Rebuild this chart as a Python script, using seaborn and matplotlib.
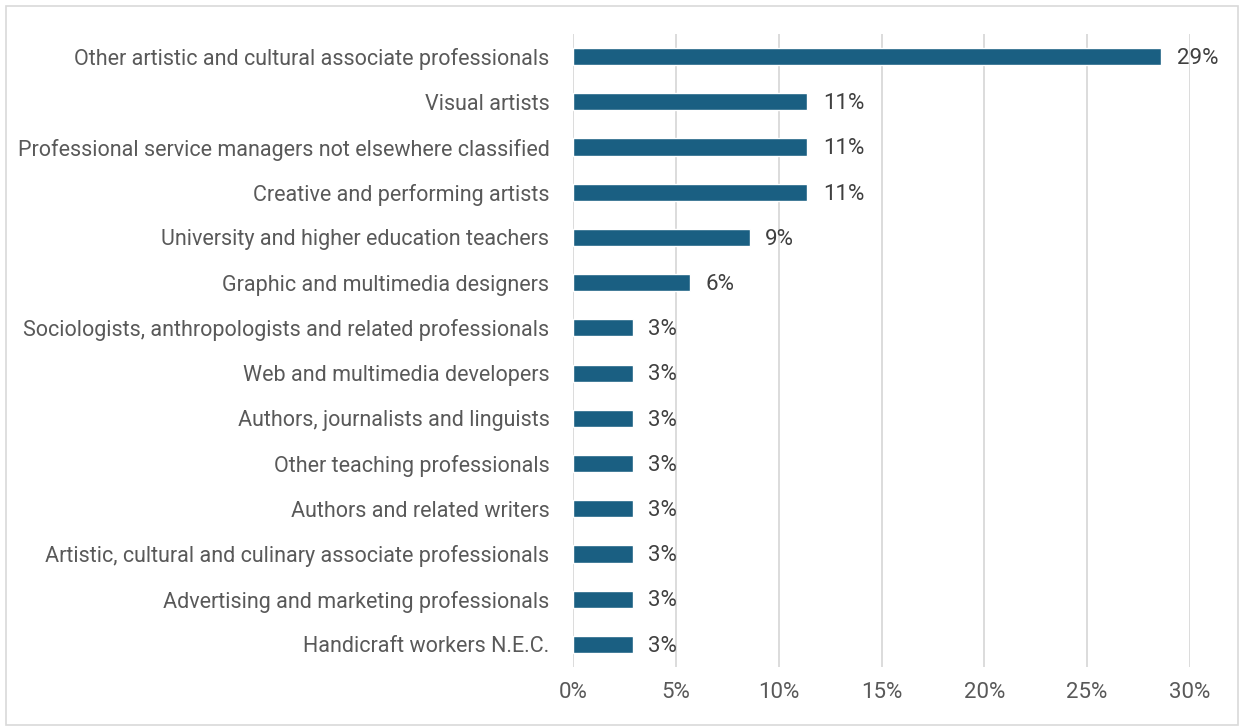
import matplotlib
matplotlib.use("Agg")
import matplotlib.pyplot as plt
import seaborn as sns
import pandas as pd
from matplotlib.patches import Rectangle

occupations = [
    "Other artistic and cultural associate professionals",
    "Visual artists",
    "Professional service managers not elsewhere classified",
    "Creative and performing artists",
    "University and higher education teachers",
    "Graphic and multimedia designers",
    "Sociologists, anthropologists and related professionals",
    "Web and multimedia developers",
    "Authors, journalists and linguists",
    "Other teaching professionals",
    "Authors and related writers",
    "Artistic, cultural and culinary associate professionals",
    "Advertising and marketing professionals",
    "Handicraft workers N.E.C.",
]
shares = [28.6, 11.4, 11.4, 11.4, 8.6, 5.7, 2.9, 2.9, 2.9, 2.9, 2.9, 2.9, 2.9, 2.9]
x_ticks = [0, 5, 10, 15, 20, 25, 30]

df = pd.DataFrame({"occupation": occupations, "share": shares})

sns.set_theme(style="white")
plt.rcParams["font.family"] = ["Roboto", "DejaVu Sans"]

TEXT = "#595959"
BAR = "#1a5f82"
GRID = "#d9d9d9"

fig = plt.figure(figsize=(12.43, 7.28), dpi=100)
ax = fig.add_axes([573 / 1243, 1 - 667 / 728, (1190 - 573) / 1243, (667 - 34) / 728])

sns.barplot(data=df, x="share", y="occupation", color=BAR, width=0.38,
            saturation=1, ax=ax, zorder=3)

ax.set_xlim(0, 30)
ax.set_xticks(x_ticks)
ax.set_xticklabels([f"{t}%" for t in x_ticks])
ax.xaxis.grid(True, color=GRID, linewidth=1.3, zorder=0)
ax.yaxis.grid(False)
for s in ax.spines.values():
    s.set_visible(False)
ax.set_xlabel("")
ax.set_ylabel("")
ax.tick_params(axis="x", length=0, pad=11, labelsize=16, labelcolor=TEXT)
ax.tick_params(axis="y", length=0, pad=17, labelsize=15.5, labelcolor=TEXT)

for i, v in enumerate(shares):
    ax.text(v + 0.75, i + 0.04, f"{v:.0f}%", va="center", ha="left",
            fontsize=16, color="#404040", clip_on=False)

fig.patches.append(Rectangle((6 / 1243, 3 / 728), 1232 / 1243, 719 / 728,
                             transform=fig.transFigure, fill=False,
                             edgecolor=GRID, linewidth=1.2))

fig.savefig("out.png", dpi=100)
